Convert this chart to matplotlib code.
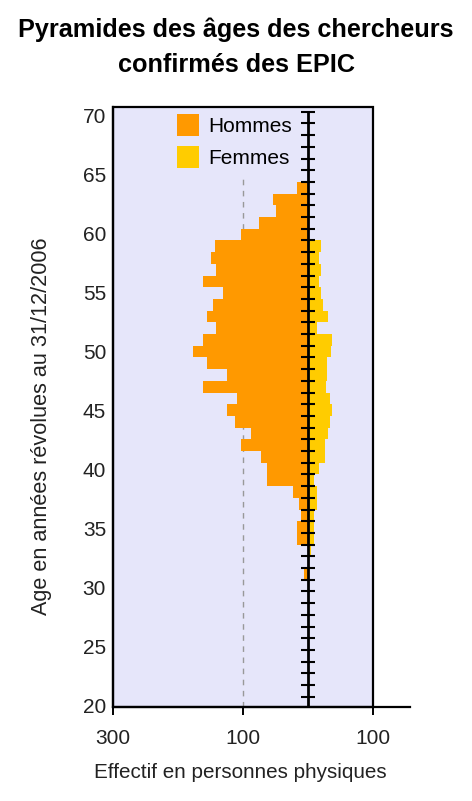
import matplotlib
matplotlib.use("Agg")
import matplotlib.pyplot as plt
from matplotlib.patches import Rectangle, Patch

# One-year age bands (lower bound of each band, completed years)
ages = list(range(20, 70))

# Headcount of men per age band, ages 20..69
hommes = [0, 0, 0, 0, 0, 0, 0, 0, 0, 0,
          5, 0, 0, 17, 17, 10, 13, 23, 63, 63,
          72, 103, 88, 112, 125, 109, 162, 125, 155, 177,
          162, 141, 155, 146, 131, 162, 141, 149, 143, 103,
          75, 49, 54, 17, 0, 0, 0, 0, 0, 0]

# Headcount of women per age band, ages 20..69
femmes = [0, 0, 0, 0, 0, 0, 0, 0, 0, 0,
          0, 0, 5, 9, 10, 10, 14, 14, 10, 17,
          26, 26, 32, 34, 38, 34, 28, 30, 30, 36,
          38, 14, 32, 23, 20, 17, 20, 17, 20, 0,
          0, 4, 0, 0, 0, 0, 0, 0, 0, 0]

age_ticks = [20, 25, 30, 35, 40, 45, 50, 55, 60, 65, 70]
x_ticks = [-300, -100, 100]
x_ticklabels = ["300", "100", "100"]

title = "Pyramides des âges des chercheurs\nconfirmés des EPIC"
xlabel = "Effectif en personnes physiques"
ylabel = "Age en années révolues au 31/12/2006"

ORANGE = "#ff9900"
YELLOW = "#ffcc00"
LAVENDER = "#e6e6fa"
TEXT = "#222222"
FONT = ["Liberation Sans", "DejaVu Sans"]

plt.rcParams["font.family"] = FONT

W, H = 472, 801
fig = plt.figure(figsize=(W / 100, H / 100), dpi=100)

left_px, right_px, top_px, bottom_px = 113, 410, 106.7, 706.7
ax = fig.add_axes([left_px / W, 1 - bottom_px / H,
                   (right_px - left_px) / W, (bottom_px - top_px) / H])

xmin, xmax = -300, 157.6
ymin, ymax = 19.15, 70.43
ax.set_xlim(xmin, xmax)
ax.set_ylim(ymin, ymax)
ax.set_facecolor("white")

# Plot area background, and its border drawn on top of everything
ax.add_patch(Rectangle((xmin, ymin), 100 - xmin, ymax - ymin,
                       facecolor=LAVENDER, edgecolor="none", zorder=0))
ax.add_patch(Rectangle((xmin, ymin), 100 - xmin, ymax - ymin,
                       facecolor="none", edgecolor="black", lw=1.6,
                       zorder=6, clip_on=False))

# Dashed reference line at 100 men
ax.axvline(-100, color="#999999", lw=1.0, ls=(0, (4, 4)), zorder=1)

# Bars: men to the left, women to the right
ax.barh(ages, [-v for v in hommes], height=1.0, align="edge",
        color=ORANGE, lw=0, zorder=2)
ax.barh(ages, femmes, height=1.0, align="edge",
        color=YELLOW, lw=0, zorder=2)

# Central age axis with a tick for every year
center_ticks = list(range(20, 71))
ax.vlines(0, ymin, 70, color="black", lw=2.0, zorder=4)
ax.hlines(center_ticks, -11, 11, color="black", lw=1.5, zorder=4)

# Spines
for side in ("top", "right"):
    ax.spines[side].set_visible(False)
for side in ("left", "bottom"):
    ax.spines[side].set_linewidth(1.6)
    ax.spines[side].set_zorder(6)

# Age labels on the left sit on their own slightly shifted scale
def to_label(a):
    return 70 - ((70 - a) * 11.7 - 4.0) / 11.786

def from_label(v):
    return 70 - ((70 - v) * 11.786 + 4.0) / 11.7

ax.set_yticks([])
ax.tick_params(axis="y", length=0)
sec = ax.secondary_yaxis("left", functions=(to_label, from_label))
sec.set_yticks(age_ticks)
sec.set_yticklabels([str(a) for a in age_ticks], fontsize=15, color=TEXT)
sec.tick_params(axis="y", length=0, pad=5)
sec.spines["left"].set_visible(False)

ax.set_xticks(x_ticks)
ax.set_xticklabels(x_ticklabels, fontsize=15, color=TEXT)
ax.tick_params(axis="x", direction="out", length=6, width=1.4, pad=10)

fig.text(240 / W, 1 - 772 / H, xlabel, ha="center", va="center",
         fontsize=14.9, color=TEXT)
fig.text(42 / W, 1 - 426 / H, ylabel, ha="center", va="center",
         rotation=90, fontsize=15.6, color=TEXT)

handles = [Patch(facecolor=ORANGE, edgecolor="none"),
           Patch(facecolor=YELLOW, edgecolor="none")]
leg = ax.legend(handles, ["Hommes", "Femmes"], loc="upper left",
                bbox_to_anchor=(156 / W, 1 - 93 / H),
                bbox_transform=fig.transFigure,
                frameon=True, fancybox=False, framealpha=1,
                facecolor=LAVENDER, edgecolor="none",
                fontsize=15, handlelength=1.05, handleheight=1.25,
                handletextpad=0.45, labelspacing=0.5, borderpad=0.5)
leg.set_zorder(3)
# keep the legend background inside the plot area
leg.get_frame().set_clip_box(ax.bbox)
leg.get_frame().set_clip_on(True)

fig.text(236 / W, 1 - 47.5 / H, title, ha="center", va="center",
         fontsize=18.2, fontweight="bold", linespacing=1.6)

fig.savefig("out.png", dpi=100)
